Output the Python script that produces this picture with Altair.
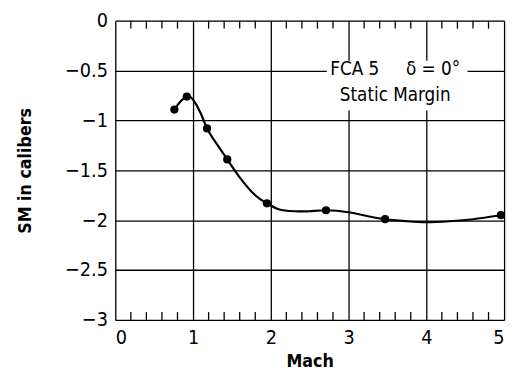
import altair as alt
import pandas as pd

# measured points
mach_pts = [0.76, 0.92, 1.18, 1.44, 1.95, 2.71, 3.47, 4.96]
sm_pts = [-0.89, -0.76, -1.08, -1.39, -1.83, -1.90, -1.99, -1.95]

# fitted curve
mach_curve = [0.76, 0.85, 0.93, 1.0, 1.1, 1.18, 1.3, 1.44, 1.6, 1.8, 1.95, 2.1, 2.3, 2.5, 2.71, 3.0, 3.25, 3.47, 3.75, 4.0, 4.3, 4.6, 4.96]
sm_curve = [-0.89, -0.80, -0.76, -0.79, -0.93, -1.08, -1.23, -1.39, -1.57, -1.75, -1.83, -1.89, -1.91, -1.91, -1.90, -1.92, -1.96, -1.99, -2.01, -2.02, -2.01, -1.99, -1.95]

minor_ticks = [0.2, 0.4, 0.6, 0.8, 1.2, 1.4, 1.6, 1.8, 2.2, 2.4, 2.6, 2.8,
               3.2, 3.4, 3.6, 3.8, 4.2, 4.4, 4.6, 4.8]

NB = "\u00a0"
label_lines = ["FCA" + NB + "5" + NB * 5 + "δ" + NB + "=" + NB + "0°", "Static Margin"]
label_x = [3.6, 3.6]
label_y = [-0.48, -0.75]
box_x = [2.72]
box_x2 = [4.53]
box_y = [-0.40]
box_y2 = [-0.90]

FONT = "DejaVu Sans Condensed, Liberation Sans, sans-serif"
W, H = 395, 304

pts = pd.DataFrame({"mach": mach_pts, "sm": sm_pts})
curve = pd.DataFrame({"mach": mach_curve, "sm": sm_curve})
ticks = pd.DataFrame({"t": minor_ticks})
labels = pd.DataFrame({"text": label_lines, "x": label_x, "y": label_y})
box = pd.DataFrame({"x": box_x, "x2": box_x2, "y": box_y, "y2": box_y2})

xs = alt.Scale(domain=[0, 5], nice=False)
ys = alt.Scale(domain=[-3, 0], nice=False)

xax = alt.Axis(values=[0, 1, 2, 3, 4, 5], title="Mach", grid=True, ticks=False, format="d",
               labelFont=FONT, labelFontSize=20, labelPadding=8, labelColor="black",
               titleFont=FONT, titleFontSize=18, titleFontWeight="bold", titleColor="black",
               titlePadding=5, domain=False, gridColor="black", gridWidth=1.3, gridOpacity=1)
yax = alt.Axis(values=[0, -0.5, -1, -1.5, -2, -2.5, -3], title="SM in calibers", grid=True,
               ticks=False, format=".1~f",
               labelFont=FONT, labelFontSize=20, labelPadding=8, labelColor="black",
               titleFont=FONT, titleFontSize=18, titleFontWeight="bold", titleColor="black",
               titlePadding=30, domain=False, gridColor="black", gridWidth=1.3, gridOpacity=1)

base_line = alt.Chart(curve).mark_line(color="black", strokeWidth=2.2, interpolate="natural").encode(
    x=alt.X("mach:Q", scale=xs, axis=xax),
    y=alt.Y("sm:Q", scale=ys, axis=yax),
)

white_box = alt.Chart(box).mark_rect(color="white").encode(
    x="x:Q", x2="x2:Q", y="y:Q", y2="y2:Q"
)

text = alt.Chart(labels).mark_text(font=FONT, fontSize=19, color="black").encode(
    x="x:Q", y="y:Q", text="text:N"
)

points = alt.Chart(pts).mark_circle(color="black", size=70, opacity=1).encode(
    x="mach:Q", y="sm:Q"
)

bottom_ticks = alt.Chart(ticks).mark_rule(color="black", strokeWidth=1.3).encode(
    x="t:Q", y=alt.value(H), y2=alt.value(H - 8)
)
top_ticks = alt.Chart(ticks).mark_rule(color="black", strokeWidth=1.3).encode(
    x="t:Q", y=alt.value(0), y2=alt.value(8)
)

chart = alt.layer(base_line, white_box, text, bottom_ticks, top_ticks, points).properties(
    width=W, height=H,
    autosize=alt.AutoSizeParams(type="none"),
    padding={"left": 109, "top": 10, "right": 5, "bottom": 55},
).configure_view(stroke="black", strokeWidth=2.5).configure(background="white")

chart.save("out.html", embed_options={"renderer": "svg", "actions": False})
